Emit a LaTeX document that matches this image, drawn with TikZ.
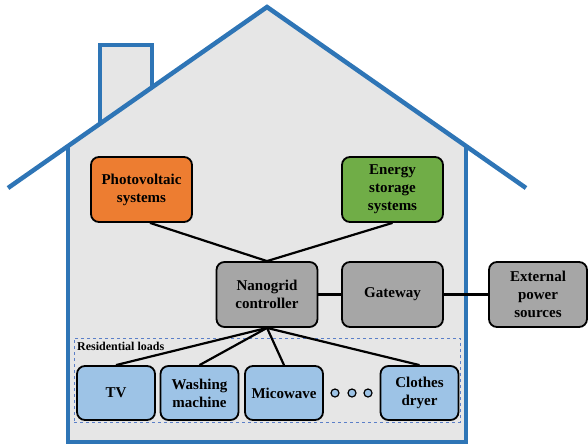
\documentclass[tikz,border=0pt]{standalone}
\usepackage{fontspec}
\setmainfont{Liberation Serif}
\begin{document}
\begin{tikzpicture}[x=1pt,y=-1pt,
  box/.style={draw=black,line width=1.8pt,rounded corners=8pt,align=center,font=\fontsize{15}{18}\selectfont\bfseries,inner sep=0pt},
  load/.style={box,fill=loadblue,minimum width=78pt,minimum height=54pt},
  big/.style={box,minimum width=101pt,minimum height=65pt},
  conn/.style={line width=2.2pt,black},
  wall/.style={line width=4.5pt,housblue}
]
\definecolor{housblue}{HTML}{2E75B6}
\definecolor{loadblue}{HTML}{9DC3E6}
\definecolor{pvorange}{HTML}{ED7D31}
\definecolor{esgreen}{HTML}{70AD47}
\definecolor{ctlgray}{HTML}{A6A6A6}
\definecolor{housefill}{HTML}{E6E6E6}
\definecolor{dashblue}{HTML}{5B7FC8}
\useasboundingbox (0,0) rectangle (588,447);
% house fill
\fill[housefill] (68,146) -- (267,7) -- (466,146) -- (466,442) -- (68,442) -- cycle;
\fill[housefill] (100,45) rectangle (152,130);
% chimney
\draw[wall,line join=miter] (100,123.7) -- (100,45) -- (152,45) -- (152,87.4);
% roof
\draw[wall,line join=miter] (8,188) -- (267,7) -- (526,188);
% walls
\draw[wall,line join=miter] (68,146) -- (68,442) -- (466,442) -- (466,146);
% nodes
\node[big,fill=pvorange] (pv) at (141.5,189.5) {Photovoltaic\\systems};
\node[big,fill=esgreen] (es) at (392.5,189.5) {Energy\\storage\\systems};
\node[big,fill=ctlgray] (nc) at (267,294.5) {Nanogrid\\controller};
\node[big,fill=ctlgray] (gw) at (392.5,294.5) {Gateway};
\node[big,fill=ctlgray,minimum width=98pt] (ext) at (538,294.5) {External\\power\\sources};
% residential loads box
\node[draw=dashblue,dashed,line width=1pt,minimum width=386pt,minimum height=84pt,inner sep=0pt] (rl) at (267,380) {};
\node[anchor=north west,font=\fontsize{12}{13}\selectfont\bfseries,inner sep=0pt] (rlt) at (77,342) {Residential loads};
\node[load] (tv) at (116,393) {TV};
\node[load] (wm) at (199.5,393) {Washing\\machine};
\node[load] (mw) at (284,393) {Micowave};
\node[load] (cd) at (419.5,393) {Clothes\\dryer};
\foreach \i/\x in {1/335,2/352,3/368}{
  \node[circle,draw=black,line width=1.2pt,fill=loadblue,minimum size=8pt,inner sep=0pt] (d\i) at (\x,393) {};
}
% connectors
\coordinate (pvb) at (150,222);
\draw[conn] (pv.south -| pvb) -- (nc.north);
\draw[conn] (es.south) -- (nc.north);
\draw[conn] (nc.south) -- (tv.north);
\draw[conn] (nc.south) -- (wm.north);
\draw[conn] (nc.south) -- (mw.north);
\draw[conn] (nc.south) -- (cd.north);
\draw[conn] (nc.east) -- (gw.west);
\draw[conn] (gw.east) -- (ext.west);
\end{tikzpicture}
\end{document}
